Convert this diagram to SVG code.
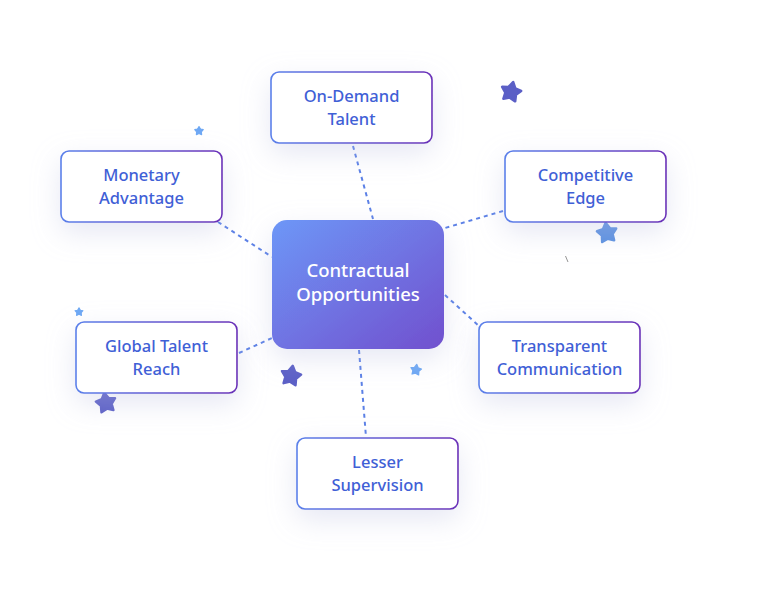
<svg xmlns="http://www.w3.org/2000/svg" xmlns:xlink="http://www.w3.org/1999/xlink" width="780" height="600" viewBox="0 0 780 600">
  <style>
    .box { fill: #ffffff; stroke: url(#borderGrad); stroke-width: 1.6; }
    .lbl { font-family: "Noto Sans", "Liberation Sans", sans-serif; font-size: 16.5px; font-weight: 500; fill: #3f60d6; text-anchor: middle; }
    .clbl { font-family: "Noto Sans", "Liberation Sans", sans-serif; font-size: 18.5px; font-weight: 500; fill: #ffffff; text-anchor: middle; }
    .conn { stroke: #5b80e6; stroke-width: 2; stroke-dasharray: 4 4; fill: none; }
    .dark { fill: #5b5fc6; stroke: #5b5fc6; }
    .light { fill: #6ea8f4; stroke: #6ea8f4; }
    .mid { fill: #5b90e0; stroke: #5b90e0; }
    .st { stroke-width: 2.5; stroke-linejoin: round; }
  </style>
  <defs>
    <linearGradient id="borderGrad" x1="0" y1="0" x2="1" y2="0">
      <stop offset="0" stop-color="#5a80ea"/>
      <stop offset="1" stop-color="#6a2fb8"/>
    </linearGradient>
    <linearGradient id="centerGrad" x1="0" y1="0" x2="1" y2="1">
      <stop offset="0" stop-color="#6d97f7"/>
      <stop offset="1" stop-color="#7150ce"/>
    </linearGradient>
    <filter id="shadow" x="-50%" y="-60%" width="200%" height="240%">
      <feDropShadow dx="0" dy="10" stdDeviation="14" flood-color="#b8bde0" flood-opacity="0.35"/>
    </filter>
    <path id="star" d="M0,-10 L3.4,-4.3 L9.5,-3.1 L5.3,1.7 L5.9,8.1 L0,5.6 L-5.9,8.1 L-5.3,1.7 L-9.5,-3.1 L-3.4,-4.3 Z"/>
  </defs>

  <rect width="780" height="600" fill="#ffffff"/>

  <g id="connectors">
    <line class="conn" x1="353" y1="146" x2="373" y2="219"/>
    <line class="conn" x1="503" y1="211" x2="445" y2="228"/>
    <line class="conn" x1="218" y1="222" x2="272" y2="257"/>
    <line class="conn" x1="239" y1="353" x2="272" y2="338"/>
    <line class="conn" x1="445" y1="295" x2="479" y2="326"/>
    <line class="conn" x1="359" y1="350" x2="366" y2="437"/>
  </g>

  <g id="stars">
    <use xlink:href="#star" class="dark st" transform="translate(511,92) rotate(12) scale(1.02)"/>
    <use xlink:href="#star" class="light st" transform="translate(199,131) scale(0.45)"/>
    <use xlink:href="#star" class="mid st" transform="translate(607,233) rotate(-8) scale(1.02)"/>
    <use xlink:href="#star" class="light st" transform="translate(79,312) scale(0.42)"/>
    <use xlink:href="#star" class="dark st" transform="translate(106,403) rotate(-10) scale(1.02)"/>
    <use xlink:href="#star" class="dark st" transform="translate(291,376) rotate(10) scale(1.02)"/>
    <use xlink:href="#star" class="light st" transform="translate(416,370) rotate(8) scale(0.55)"/>
    <line x1="565.5" y1="256" x2="568" y2="262" stroke="#777" stroke-width="0.8"/>
  </g>

  <g id="node-center">
    <rect x="272" y="220" width="172" height="129" rx="15" fill="url(#centerGrad)" filter="url(#shadow)"/>
    <text class="clbl" x="358" y="277">Contractual</text>
    <text class="clbl" x="358" y="301">Opportunities</text>
  </g>

  <g id="node-ondemand">
    <rect class="box" x="271" y="72" width="161" height="71" rx="8" filter="url(#shadow)"/>
    <text class="lbl" x="351.5" y="102">On-Demand</text>
    <text class="lbl" x="351.5" y="125">Talent</text>
  </g>

  <g id="node-monetary">
    <rect class="box" x="61" y="151" width="161" height="71" rx="8" filter="url(#shadow)"/>
    <text class="lbl" x="141.5" y="181">Monetary</text>
    <text class="lbl" x="141.5" y="204">Advantage</text>
  </g>

  <g id="node-competitive">
    <rect class="box" x="505" y="151" width="161" height="71" rx="8" filter="url(#shadow)"/>
    <text class="lbl" x="585.5" y="181">Competitive</text>
    <text class="lbl" x="585.5" y="204">Edge</text>
  </g>

  <g id="node-global">
    <rect class="box" x="76" y="322" width="161" height="71" rx="8" filter="url(#shadow)"/>
    <text class="lbl" x="156.5" y="352">Global Talent</text>
    <text class="lbl" x="156.5" y="375">Reach</text>
  </g>

  <g id="node-transparent">
    <rect class="box" x="479" y="322" width="161" height="71" rx="8" filter="url(#shadow)"/>
    <text class="lbl" x="559.5" y="352">Transparent</text>
    <text class="lbl" x="559.5" y="375">Communication</text>
  </g>

  <g id="node-lesser">
    <rect class="box" x="297" y="438" width="161" height="71" rx="8" filter="url(#shadow)"/>
    <text class="lbl" x="377.5" y="468">Lesser</text>
    <text class="lbl" x="377.5" y="491">Supervision</text>
  </g>
</svg>
